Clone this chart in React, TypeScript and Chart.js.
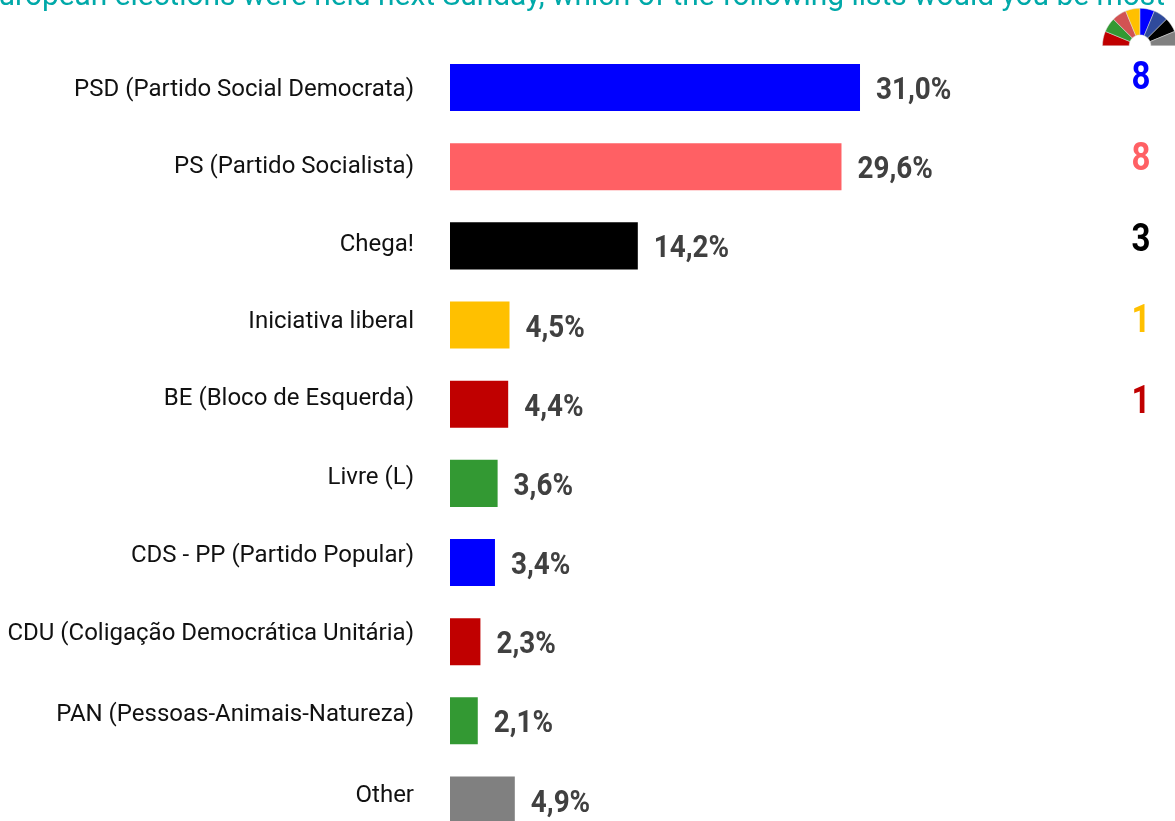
import React, { useEffect, useRef } from "react";
import { Chart, registerables } from "chart.js";

Chart.register(...registerables);

const titleText = "European elections were held next Sunday, which of the following lists would you be most";
const parties = [
  "PSD (Partido Social Democrata)",
  "PS (Partido Socialista)",
  "Chega!",
  "Iniciativa liberal",
  "BE (Bloco de Esquerda)",
  "Livre (L)",
  "CDS - PP (Partido Popular)",
  "CDU (Coligação Democrática Unitária)",
  "PAN (Pessoas-Animais-Natureza)",
  "Other",
];
const shares = [31.0, 29.6, 14.2, 4.5, 4.4, 3.6, 3.4, 2.3, 2.1, 4.9];
const barColors = ["#0000FF", "#FF6064", "#000000", "#FFC000", "#C00000", "#339933", "#0000FF", "#C00000", "#339933", "#808080"];
const labelShift = [2, 0.5, -1, -3, -5, -5.5, -7, -8, -5.5, -4.5];
const seats = [8, 8, 3, 1, 1];
const seatColors = ["#0000FF", "#FF6064", "#000000", "#FFC000", "#C00000"];
const arcValues = [1, 1, 1, 1, 1, 1, 1, 1];
const arcColors = ["#C00000", "#339933", "#D25353", "#FFC000", "#0000FF", "#2F4A9B", "#000000", "#808080"];

const FONT = "Roboto, sans-serif";

const shiftLabels = {
  id: "shiftLabels",
  beforeDraw(chart: any) {
    const items = chart.scales.y.getLabelItems(chart.chartArea);
    items.forEach((it: any, i: number) => {
      it.options.translation = [it.options.translation[0], it.options.translation[1] + labelShift[i]];
    });
  },
};

const valueLabels = {
  id: "valueLabels",
  afterDatasetsDraw(chart: any) {
    const { ctx } = chart;
    ctx.save();
    ctx.font = `700 32px ${FONT}`;
    ctx.textBaseline = "middle";
    ctx.textAlign = "left";
    ctx.fillStyle = "#404040";
    chart.getDatasetMeta(0).data.forEach((bar: any, i: number) => {
      ctx.save();
      ctx.translate(bar.x + 16, bar.y + 3.5);
      ctx.scale(0.87, 1);
      ctx.fillText(`${shares[i].toFixed(1).replace(".", ",")}%`, 0, 0);
      ctx.restore();
    });
    ctx.font = `700 38px ${FONT}`;
    ctx.textAlign = "center";
    seats.forEach((s, i) => {
      ctx.fillStyle = seatColors[i];
      ctx.save();
      ctx.translate(1171, 79 + 81 * i);
      ctx.scale(0.87, 1);
      ctx.fillText(String(s), 0, 0);
      ctx.restore();
    });
    ctx.restore();
  },
};

export default function App() {
  const barRef = useRef<HTMLCanvasElement>(null);
  const arcRef = useRef<HTMLCanvasElement>(null);

  useEffect(() => {
    const bar = new Chart(barRef.current!, {
      type: "bar",
      data: {
        labels: parties,
        datasets: [{ data: shares, backgroundColor: barColors, barPercentage: 0.594, categoryPercentage: 1 }],
      },
      options: {
        indexAxis: "y",
        animation: false,
        responsive: false,
        layout: { padding: { right: 10 } },
        plugins: {
          legend: { display: false },
          tooltip: { enabled: false },
          title: {
            display: true,
            text: titleText,
            align: "end",
            color: "#00A9A9",
            font: { family: FONT, size: 29.9, weight: "400", lineHeight: 1.2 },
            padding: { top: -20.1, bottom: 32.2 },
          },
        },
        scales: {
          x: { min: 0, max: 54.06, display: false, grid: { display: false } },
          y: {
            afterFit: (s: any) => { s.width = 480; },
            grid: { display: false },
            border: { display: false },
            ticks: { color: "#111111", padding: 28, autoSkip: false, font: { family: FONT, size: 24 } },
          },
        },
      },
      plugins: [shiftLabels, valueLabels],
    } as any);

    const arc = new Chart(arcRef.current!, {
      type: "doughnut",
      data: {
        labels: arcColors.map((_, i) => String(i + 1)),
        datasets: [{ data: arcValues, backgroundColor: arcColors, borderWidth: 0.5, borderColor: "#DDDDDD" }],
      },
      options: {
        animation: false,
        responsive: false,
        rotation: -90,
        circumference: 180,
        cutout: "29%",
        plugins: { legend: { display: false }, tooltip: { enabled: false } },
      },
    } as any);

    return () => { bar.destroy(); arc.destroy(); };
  }, []);

  return (
    <div style={{ position: "fixed", left: 0, top: 0, width: 1175, height: 821, overflow: "hidden", background: "#fff" }}>
      <canvas ref={barRef} width={1205} height={882} style={{ position: "absolute", left: -30, top: 0, width: 1205, height: 882 }} />
      <canvas ref={arcRef} width={76} height={38} style={{ position: "absolute", left: 1102, top: 8, width: 76, height: 38 }} />
    </div>
  );
}
